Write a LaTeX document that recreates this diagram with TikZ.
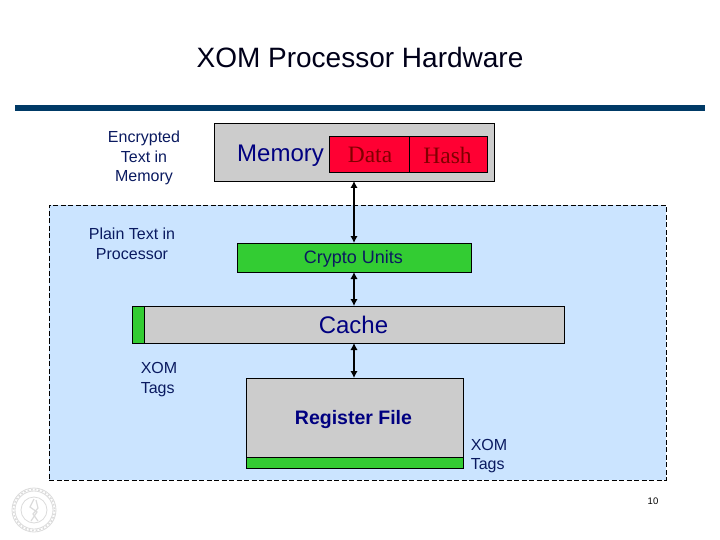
\documentclass[tikz,border=0pt]{standalone}
\usepackage{fontspec}
\setmainfont{Liberation Sans}
\newfontfamily\serifx{Liberation Serif}
\usetikzlibrary{arrows.meta}
\definecolor{navy}{HTML}{000080}
\definecolor{barblue}{HTML}{003A66}
\definecolor{panel}{HTML}{CBE4FF}
\definecolor{boxgray}{HTML}{CCCCCC}
\definecolor{gr}{HTML}{33CC33}
\definecolor{rd}{HTML}{FF0033}
\definecolor{dred}{HTML}{800000}
\definecolor{lbl}{HTML}{0A1A60}
\tikzset{
  pbox/.style={draw=black,line width=0.9pt,anchor=north west,inner sep=0pt,outer sep=0pt},
  lab/.style={text=lbl,align=center,font=\fontsize{16}{19.5}\selectfont,inner sep=0pt},
  big/.style={text=navy,inner sep=0pt,font=\fontsize{24}{28}\selectfont},
  ser/.style={text=dred,inner sep=0pt,font=\serifx\fontsize{23.5}{27}\selectfont},
  link/.style={draw=black,line width=1.6pt,{Latex[length=7pt,width=7.5pt]}-{Latex[length=7pt,width=7.5pt]}},
  sealline/.style={draw=black!14,line width=0.8pt}
}
\begin{document}
\begin{tikzpicture}[x=1pt,y=-1pt]
\useasboundingbox (0,0) rectangle (720,540);
\fill[white] (0,0) rectangle (720,540);
% title and bar
\node[inner sep=0pt,text=black!90!blue,font=\fontsize{28}{32}\selectfont] (title) at (360,57.5) {XOM Processor Hardware};
\node[fill=barblue,draw=none,anchor=north west,inner sep=0pt,minimum width=690pt,minimum height=6pt] (bar) at (15,105) {};
% panel
\node[pbox,fill=panel,dash pattern=on 5pt off 2.5pt,line width=0.9pt,minimum width=617pt,minimum height=275pt] (panel) at (49,205) {};
% memory
\node[pbox,fill=boxgray,minimum width=280pt,minimum height=58pt] (mem) at (214,123) {};
\node[big,anchor=base west] (memt) at (237,162) {Memory};
\node[pbox,fill=rd,minimum width=80pt,minimum height=36pt] (data) at (329,136) {};
\node[pbox,fill=rd,minimum width=78pt,minimum height=36pt] (hash) at (409,136) {};
\node[ser] (datat) at (370,155) {Data};
\node[ser] (hasht) at (447.5,155) {Hash};
% crypto
\node[pbox,fill=gr,minimum width=234pt,minimum height=29pt] (crypto) at (237,243) {};
\node[inner sep=0pt,text=lbl,font=\fontsize{18}{20}\selectfont] (cryptot) at (353.5,258.5) {Crypto Units};
% cache
\node[pbox,fill=boxgray,minimum width=432pt,minimum height=37pt] (cache) at (132,306) {};
\node[pbox,fill=gr,minimum width=12pt,minimum height=37pt] (ctag) at (132,306) {};
\node[big] (cachet) at (353.5,325) {Cache};
% register file
\node[pbox,fill=boxgray,minimum width=217pt,minimum height=79pt] (reg) at (246,378) {};
\node[pbox,fill=gr,minimum width=217pt,minimum height=11pt] (rtag) at (246,457) {};
\node[inner sep=0pt,text=navy,font=\bfseries\fontsize{19.5}{22}\selectfont] (regt) at (353.5,419.5) {Register File};
% labels
\node[lab] (l1) at (144,158) {Encrypted\\Text in\\Memory};
\node[lab] (l2) at (132,244) {Plain Text in\\Processor};
\node[lab,align=left] (l3) at (159,379.5) {XOM\\Tags};
\node[lab,align=left] (l4) at (489,456) {XOM\\Tags};
\node[inner sep=0pt,text=black,font=\fontsize{9.5}{11}\selectfont] (pg) at (653,501) {10};
% connectors
\coordinate (a1) at (354,181);
\coordinate (a2) at (354,243);
\coordinate (a3) at (354,272);
\coordinate (a4) at (354,306);
\coordinate (a5) at (354,343);
\coordinate (a6) at (354,378);
\draw[link] (a1) -- (a2);
\draw[link] (a3) -- (a4);
\draw[link] (a5) -- (a6);
% seal
\draw[sealline] (34,510) circle (22);
\draw[sealline] (34,510) circle (19);
\draw[sealline,line width=1.6pt,dotted] (34,510) circle (20.5);
\draw[sealline] (34,510) circle (13);
\draw[sealline,line width=1.2pt] (34,499) -- (30,507) -- (37,512) -- (31,521) (36,500) -- (38,508) -- (33,514) -- (38,521);
\end{tikzpicture}
\end{document}
